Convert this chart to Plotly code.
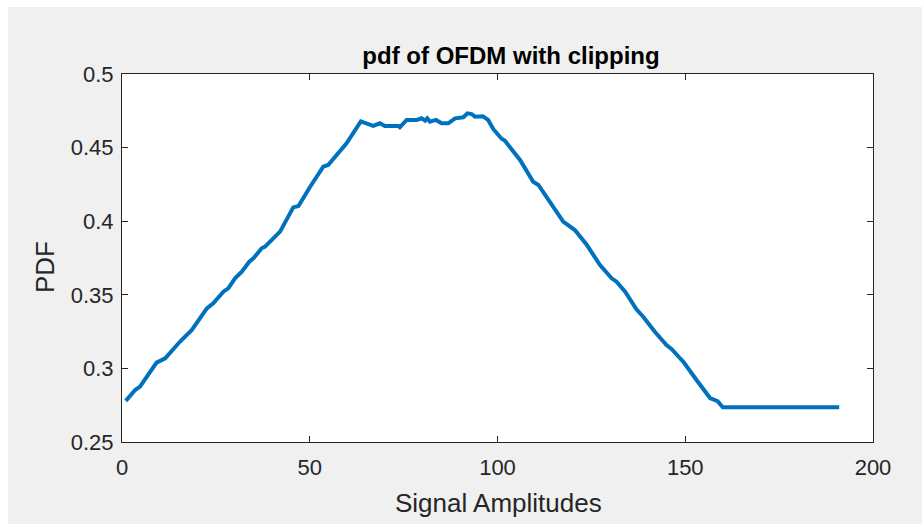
import plotly.graph_objects as go

# Signal amplitude (x) and PDF (y)
amplitude = [1, 3.5, 4.8, 9.2, 11.5, 13.7, 15.4, 18.6, 22.6, 24.3, 27, 28.3, 30.1, 31.9, 33.9,
             35, 37.2, 38.1, 42.1, 45.6, 47, 50.1, 53.6, 54.9, 57.2, 59.8, 63.6,
             66.9, 68.7, 70, 73.6, 74, 75.8, 78.5, 79.8, 80.7, 81.3, 82, 83.6, 85.1, 86.9,
             88.7, 90.9, 92, 93.1, 94, 96.1, 97.5, 98.9, 101.1, 102, 106, 109.5, 110.9,
             117.5, 118.8, 120.6, 123.8, 127.3, 130.4, 131.7, 134, 137, 138.8, 141.9, 145,
             146.4, 148.6, 149.5, 153, 156.6, 158.6, 160, 191]
pdf_vals = [0.2779, 0.2853, 0.2876, 0.3039, 0.3068, 0.3137, 0.3181, 0.3261, 0.3408, 0.3442,
            0.3521, 0.3544, 0.3612, 0.3657, 0.3725,
            0.3748, 0.3816, 0.3827, 0.3929, 0.4094, 0.4103, 0.4234, 0.4370, 0.4382, 0.4450,
            0.4529, 0.4678,
            0.4647, 0.4665, 0.4647, 0.4647, 0.4638, 0.4688, 0.4688, 0.4699, 0.4683, 0.4699,
            0.4676, 0.4688, 0.4665, 0.4665,
            0.4699, 0.4706, 0.4733, 0.4728, 0.4710, 0.4713, 0.4688, 0.4625, 0.4560, 0.4546,
            0.4416, 0.4268, 0.4246,
            0.3997, 0.3974, 0.3940, 0.3838, 0.3702, 0.3612, 0.3589, 0.3521, 0.3402, 0.3351,
            0.3249, 0.3159, 0.3130, 0.3069, 0.3045, 0.2921, 0.2799, 0.2778, 0.2736, 0.2736]

x_ticks = [0, 50, 100, 150, 200]
y_ticks = [0.25, 0.3, 0.35, 0.4, 0.45, 0.5]
y_tick_text = ["0.25", "0.3", "0.35", "0.4", "0.45", "0.5"]

FONT = "Liberation Sans, Arial, Helvetica, sans-serif"
AX = "#262626"

fig = go.Figure()
fig.add_trace(go.Scatter(x=amplitude, y=pdf_vals, mode="lines",
                         line=dict(color="#0072BD", width=4), showlegend=False))

W, H = 922, 524
L, R, T, B = 122, 49, 74, 82
pw, ph = W - L - R, H - T - B

axis_common = dict(showgrid=False, zeroline=False, showline=True, linecolor=AX, linewidth=1,
                   mirror="allticks", ticks="inside", ticklen=6, tickcolor=AX,
                   tickfont=dict(family=FONT, size=22, color=AX))

fig.update_layout(
    width=W, height=H,
    margin=dict(l=L, r=R, t=T, b=B, pad=0),
    paper_bgcolor="#f0f0f0", plot_bgcolor="white",
    title=dict(text="<b>pdf of OFDM with clipping</b>", x=(511 - L) / pw, xref="paper",
               xanchor="center", y=1 - 56 / H, yref="container", yanchor="middle",
               font=dict(family=FONT, size=24, color="black")),
    xaxis=dict(range=[0, 200], tickvals=x_ticks,
               ticklabelstandoff=6,
               **axis_common),
    yaxis=dict(range=[0.25, 0.5], tickvals=y_ticks, ticktext=y_tick_text,
               ticklabelstandoff=3,
               **axis_common),
    annotations=[
        dict(text="Signal Amplitudes", xref="paper", yref="paper",
             x=(498 - L) / pw, y=(H - B - 503) / ph, xanchor="center", yanchor="middle",
             showarrow=False, font=dict(family=FONT, size=26, color=AX)),
        dict(text="PDF", xref="paper", yref="paper", textangle=-90,
             x=(45 - L) / pw, y=(H - B - 267) / ph, xanchor="center", yanchor="middle",
             showarrow=False, font=dict(family=FONT, size=26, color=AX)),
    ],
    shapes=[
        dict(type="rect", xref="paper", yref="paper", x0=-0.5, x1=1.5,
             y0=(H - B - 7) / ph, y1=2,
             fillcolor="white", line=dict(width=0), layer="above"),
        dict(type="rect", xref="paper", yref="paper", x0=-0.5, x1=(8 - L) / pw,
             y0=-1, y1=2, fillcolor="white", line=dict(width=0), layer="above"),
    ],
)

fig.write_html("out.html")
